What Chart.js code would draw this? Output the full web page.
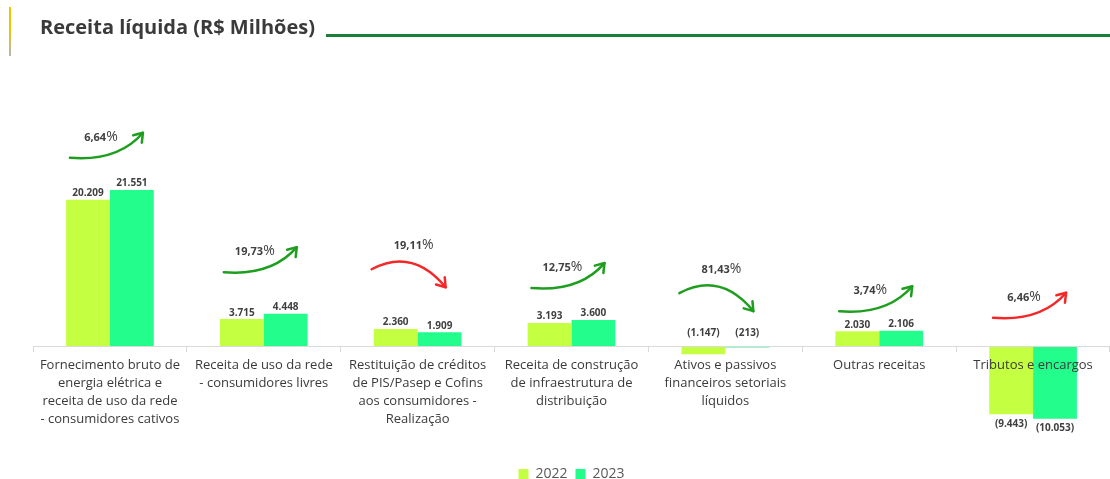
<!DOCTYPE html>
<html lang="pt-BR">
<head>
  <meta charset="UTF-8">
  <title>Receita líquida (R$ Milhões)</title>
  <script src="https://cdn.jsdelivr.net/npm/chart.js"></script>
  <style>
    body {
      margin: 0;
      padding: 0;
      background: #fff;
      font-family: 'Open Sans', sans-serif;
    }

    .wrap {
      position: relative;
      width: 1110px;
      height: 479px;
      overflow: hidden;
    }

    .marca {
      position: absolute;
      left: 9px;
      top: 7px;
      width: 2px;
      height: 49px;
      background: linear-gradient(#f4c300, #f2c400 45%, #b5b5b5);
    }

    .titulo {
      position: absolute;
      left: 40px;
      top: 13px;
      font-size: 20px;
      line-height: 27px;
      font-weight: 700;
      color: #3a3a3a;
      white-space: nowrap;
    }

    .linha {
      position: absolute;
      left: 326px;
      right: 0;
      top: 34px;
      height: 3px;
      background: #188038;
    }

    canvas {
      position: absolute;
      left: 0;
      top: 0;
    }
  </style>
</head>
<body>
<div class="wrap">
  <canvas id="grafico" width="1110" height="500"></canvas>
  <div class="marca"></div>
  <div class="titulo">Receita líquida (R$ Milhões)</div>
  <div class="linha"></div>
</div>

<script>
  // categorias (rótulos do eixo x, quebrados em linhas)
  var categorias = [
    ['Fornecimento bruto de', 'energia elétrica e', 'receita de uso da rede', '- consumidores cativos'],
    ['Receita de uso da rede', '- consumidores livres'],
    ['Restituição de créditos', 'de PIS/Pasep e Cofins', 'aos consumidores -', 'Realização'],
    ['Receita de construção', 'de infraestrutura de', 'distribuição'],
    ['Ativos e passivos', 'financeiros setoriais', 'líquidos'],
    ['Outras receitas'],
    ['Tributos e encargos']
  ];
  var anos = ['2022', '2023'];
  var valores2022 = [20209, 3715, 2360, 3193, -1147, 2030, -9443];
  var valores2023 = [21551, 4448, 1909, 3600, -213, 2106, -10053];
  // variação 2023 x 2022 (%)
  var variacao = ['6,64', '19,73', '19,11', '12,75', '81,43', '3,74', '6,46'];
  // altura (em R$ milhões) onde começa cada seta
  var nivelSeta = [26000, 10200, 10600, 8000, 7300, 4800, 3900];
  var tetoEixo = 39500;

  function formata(v) {
    var s = String(Math.abs(v)).replace(/\B(?=(\d{3})+(?!\d))/g, '.');
    return v < 0 ? '(' + s + ')' : s;
  }

  // rótulos de valor das barras
  var rotulosPlugin = {
    id: 'rotulos',
    afterDatasetsDraw: function (chart) {
      var ctx = chart.ctx;
      var zero = chart.scales.y.getPixelForValue(0);
      ctx.save();
      ctx.font = 'bold 10px "Open Sans"';
      ctx.fillStyle = '#404040';
      ctx.textAlign = 'center';
      ctx.textBaseline = 'alphabetic';
      chart.data.datasets.forEach(function (ds, di) {
        chart.getDatasetMeta(di).data.forEach(function (bar, i) {
          var v = ds.data[i];
          var ty;
          if (v >= 0) ty = bar.y - 3.5;
          else if (bar.y - zero < 20) ty = zero - 10;
          else ty = bar.y + 12.5;
          ctx.fillText(formata(v), bar.x, ty);
        });
      });
      ctx.restore();
    }
  };

  // setas curvas com a variação percentual
  var setasPlugin = {
    id: 'setas',
    afterDatasetsDraw: function (chart) {
      var ctx = chart.ctx;
      var xs = chart.scales.x, ys = chart.scales.y;
      ctx.save();
      variacao.forEach(function (txt, i) {
        var cx = xs.getPixelForValue(i);
        var sy = ys.getPixelForValue(nivelSeta[i]);
        var sobe = Math.abs(valores2023[i]) > Math.abs(valores2022[i]);
        var cor = valores2023[i] > valores2022[i] ? '#1e9e1e' : '#f42828';
        var f = sobe
          ? {sx: -40, kx: 8, ky: 4, ex: 33, ey: -25, tx: -9, ty: -17}
          : {sx: -46, kx: -5, ky: -22, ex: 28, ey: 18, tx: -4, ty: -20};

        ctx.strokeStyle = cor;
        ctx.lineWidth = 2.5;
        ctx.lineCap = 'round';
        ctx.lineJoin = 'round';
        ctx.beginPath();
        ctx.moveTo(cx + f.sx, sy);
        ctx.quadraticCurveTo(cx + f.kx, sy + f.ky, cx + f.ex, sy + f.ey);
        ctx.stroke();

        var ang = Math.atan2(f.ey - f.ky, f.ex - f.kx);
        var px = cx + f.ex, py = sy + f.ey;
        ctx.beginPath();
        ctx.moveTo(px + 10 * Math.cos(ang + Math.PI - 0.6), py + 10 * Math.sin(ang + Math.PI - 0.6));
        ctx.lineTo(px, py);
        ctx.lineTo(px + 10 * Math.cos(ang + Math.PI + 0.6), py + 10 * Math.sin(ang + Math.PI + 0.6));
        ctx.stroke();

        // texto: número em negrito + % maior
        ctx.fillStyle = '#404040';
        ctx.textBaseline = 'alphabetic';
        ctx.textAlign = 'left';
        ctx.font = 'bold 11px "Open Sans"';
        var w1 = ctx.measureText(txt).width;
        ctx.font = '14px "Open Sans"';
        var w2 = ctx.measureText('%').width;
        var x0 = cx + f.tx - (w1 + w2) / 2;
        var by = sy + f.ty;
        ctx.font = 'bold 11px "Open Sans"';
        ctx.fillText(txt, x0, by);
        ctx.font = '14px "Open Sans"';
        ctx.fillText('%', x0 + w1, by);
      });
      ctx.restore();
    }
  };

  var ctx = document.getElementById('grafico').getContext('2d');
  var grafico = new Chart(ctx, {
    type: 'bar',
    data: {
      labels: categorias,
      datasets: [{
        label: anos[0],
        data: valores2022,
        backgroundColor: '#c5ff41',
        clip: false
      }, {
        label: anos[1],
        data: valores2023,
        backgroundColor: '#22fd8c',
        clip: false
      }]
    },
    options: {
      responsive: false,
      animation: false,
      layout: {
        padding: {top: 60, left: 33, right: 0, bottom: 9}
      },
      datasets: {
        bar: {categoryPercentage: 0.57, barPercentage: 1}
      },
      scales: {
        x: {
          grid: {offset: true, drawOnChartArea: false, tickLength: 6, color: '#d9d9d9'},
          border: {color: '#d9d9d9', z: 1},
          ticks: {
            z: 1,
            padding: 4,
            color: '#3a3a3a',
            maxRotation: 0,
            autoSkip: false,
            font: {family: 'Open Sans', size: 13, lineHeight: 1.4}
          },
          afterFit: function (scale) {
            scale.height = 113;
          }
        },
        y: {
          display: false,
          min: 0,
          max: tetoEixo
        }
      },
      plugins: {
        legend: {
          position: 'bottom',
          fullSize: false,
          labels: {
            boxWidth: 10,
            boxHeight: 10,
            padding: 8,
            color: '#595959',
            font: {family: 'Open Sans', size: 14}
          }
        },
        tooltip: {enabled: false}
      }
    },
    plugins: [rotulosPlugin, setasPlugin]
  });
</script>
</body>
</html>
